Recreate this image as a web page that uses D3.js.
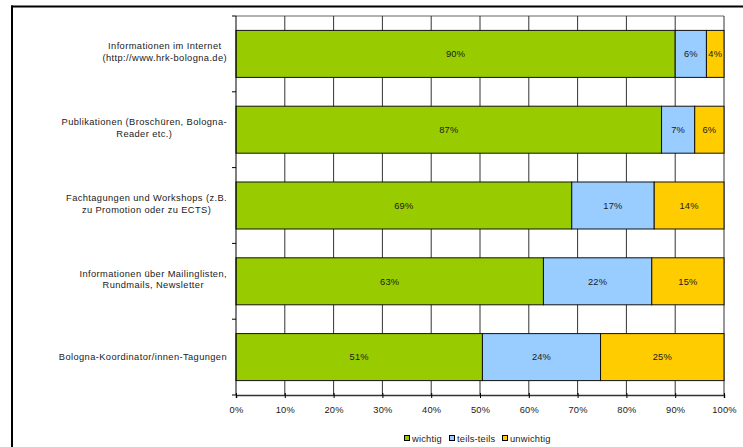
<!DOCTYPE html>
<html>
<head>
<meta charset="utf-8">
<script src="https://cdn.jsdelivr.net/npm/d3@7"></script>
<style>
  html, body { margin: 0; padding: 0; background: #fff; overflow: hidden; }
  text { font-family: "Liberation Sans", Arial, sans-serif; fill: #1a1a1a; }
</style>
</head>
<body>
<div id="block"></div>
<script>
// categories, top to bottom (multi-line labels as arrays)
var categories = [
  ["Informationen im Internet", "(http://www.hrk-bologna.de)"],
  ["Publikationen (Broschüren, Bologna-", "Reader etc.)"],
  ["Fachtagungen und Workshops (z.B.", "zu Promotion oder zu ECTS)"],
  ["Informationen über Mailinglisten,", "Rundmails, Newsletter"],
  ["Bologna-Koordinator/innen-Tagungen"]
];

// shares in percent
var wichtig   = [90.0, 87.2, 68.8, 63.0, 50.5];
var teilsTeils = [6.4, 6.8, 16.9, 22.2, 24.2];
var unwichtig = [3.6, 6.0, 14.3, 14.8, 25.3];

var seriesNames = ["wichtig", "teils-teils", "unwichtig"];
var seriesColors = ["#99cc00", "#99ccff", "#ffcc00"];
var xTicks = [0, 10, 20, 30, 40, 50, 60, 70, 80, 90, 100];

var w = 743,
  h = 447;

var svg = d3.select("#block")
          .append("svg")
          .attr("width", w)
          .attr("height", h)
          .style("display", "block");

// outer chart frame (runs off the right/bottom edge)
svg.append("rect")
   .attr("x", 11).attr("y", 5.5)
   .attr("width", 732).attr("height", 2)
   .attr("fill", "#000");
svg.append("rect")
   .attr("x", 11).attr("y", 5.5)
   .attr("width", 2).attr("height", 442)
   .attr("fill", "#000");

var x = d3.scaleLinear()
        .domain([0, 100])
        .range([236, 724]);

var y = d3.scaleBand()
        .domain(d3.range(categories.length))
        .range([16, 395])
        .paddingInner(0.38)
        .paddingOuter(0.19);

// plot area top edge
svg.append("rect")
   .attr("x", 236).attr("y", 15.5)
   .attr("width", 488).attr("height", 1)
   .attr("fill", "#666");

// vertical gridlines
svg.append("g")
   .selectAll("line")
   .data(xTicks.slice(1))
   .enter()
   .append("line")
   .attr("x1", function(d) { return x(d); })
   .attr("x2", function(d) { return x(d); })
   .attr("y1", 16)
   .attr("y2", 395)
   .attr("stroke", "#333")
   .attr("stroke-width", 1);

// stacked data
var rows = categories.map(function(c, i) {
  return { i: i, wichtig: wichtig[i], "teils-teils": teilsTeils[i], unwichtig: unwichtig[i] };
});
var stack = d3.stack().keys(seriesNames)(rows);

var layers = svg.selectAll("g.layer")
  .data(stack)
  .enter()
  .append("g")
  .attr("class", "layer")
  .attr("fill", function(d, k) { return seriesColors[k]; });

layers.selectAll("rect")
  .data(function(d) { return d; })
  .enter()
  .append("rect")
  .attr("x", function(d) { return x(d[0]); })
  .attr("y", function(d) { return y(d.data.i); })
  .attr("width", function(d) { return x(d[1]) - x(d[0]); })
  .attr("height", y.bandwidth())
  .attr("stroke", "#111")
  .attr("stroke-width", 1);

// value labels with a fill-coloured backdrop
layers.each(function(layer, k) {
  var g = d3.select(this);
  layer.forEach(function(d) {
    var cx = (x(d[0]) + x(d[1])) / 2,
        cy = y(d.data.i) + y.bandwidth() / 2;
    var t = g.append("text")
      .attr("x", cx)
      .attr("y", cy + 3.3)
      .attr("text-anchor", "middle")
      .attr("font-size", "9.3px")
      .attr("letter-spacing", "0.2px")
      .text(Math.round(d[1] - d[0]) + "%");
    var bb = t.node().getBBox();
    g.insert("rect", function() { return t.node(); })
      .attr("x", bb.x - 1).attr("y", bb.y)
      .attr("width", bb.width + 2).attr("height", bb.height)
      .attr("fill", seriesColors[k]);
  });
});

// category axis
svg.append("line")
   .attr("x1", 236).attr("x2", 236)
   .attr("y1", 16).attr("y2", 395)
   .attr("stroke", "#000");
svg.append("g")
   .selectAll("line")
   .data(d3.range(categories.length + 1))
   .enter()
   .append("line")
   .attr("x1", 232).attr("x2", 236)
   .attr("y1", function(i) { return 16 + i * y.step(); })
   .attr("y2", function(i) { return 16 + i * y.step(); })
   .attr("stroke", "#000");

// category labels: centred block, right edge at 227
categories.forEach(function(lines, i) {
  var cy = y(i) + y.bandwidth() / 2;
  var g = svg.append("g");
  var texts = lines.map(function(s, j) {
    var base = lines.length === 1 ? cy + 3.3 : cy - 4.5 + j * 11.5;
    return g.append("text")
      .attr("y", base)
      .attr("text-anchor", "middle")
      .attr("font-size", "9.3px")
      .attr("letter-spacing", "0.4px")
      .text(s);
  });
  var maxW = d3.max(texts, function(t) { return t.node().getComputedTextLength(); });
  texts.forEach(function(t) { t.attr("x", 227 - maxW / 2); });
});

// value axis
var xAxis = d3.axisBottom(x)
  .tickValues(xTicks)
  .tickSize(3)
  .tickFormat(function(d) { return d + "%"; });

var ax = svg.append("g")
  .attr("transform", "translate(0,395)")
  .call(xAxis);
ax.select(".domain").attr("stroke", "#333").attr("stroke-width", 1.5);
ax.selectAll(".tick line").attr("stroke", "#000").attr("y1", -2);
ax.selectAll(".tick text")
  .attr("font-family", "Liberation Sans, Arial, sans-serif")
  .attr("font-size", "9.3px")
  .attr("letter-spacing", "0.2px")
  .attr("fill", "#1a1a1a")
  .attr("dy", 0)
  .attr("y", 17.5);

// legend
var legendX = [404, 449, 502];
var legend = svg.append("g");
seriesNames.forEach(function(name, k) {
  legend.append("rect")
    .attr("x", legendX[k] + 0.5).attr("y", 435.5)
    .attr("width", 5).attr("height", 5)
    .attr("fill", seriesColors[k])
    .attr("stroke", "#000");
  legend.append("text")
    .attr("x", legendX[k] + 8)
    .attr("y", 441.5)
    .attr("font-size", "9.3px")
    .attr("letter-spacing", "0.2px")
    .text(name);
});
</script>
</body>
</html>
